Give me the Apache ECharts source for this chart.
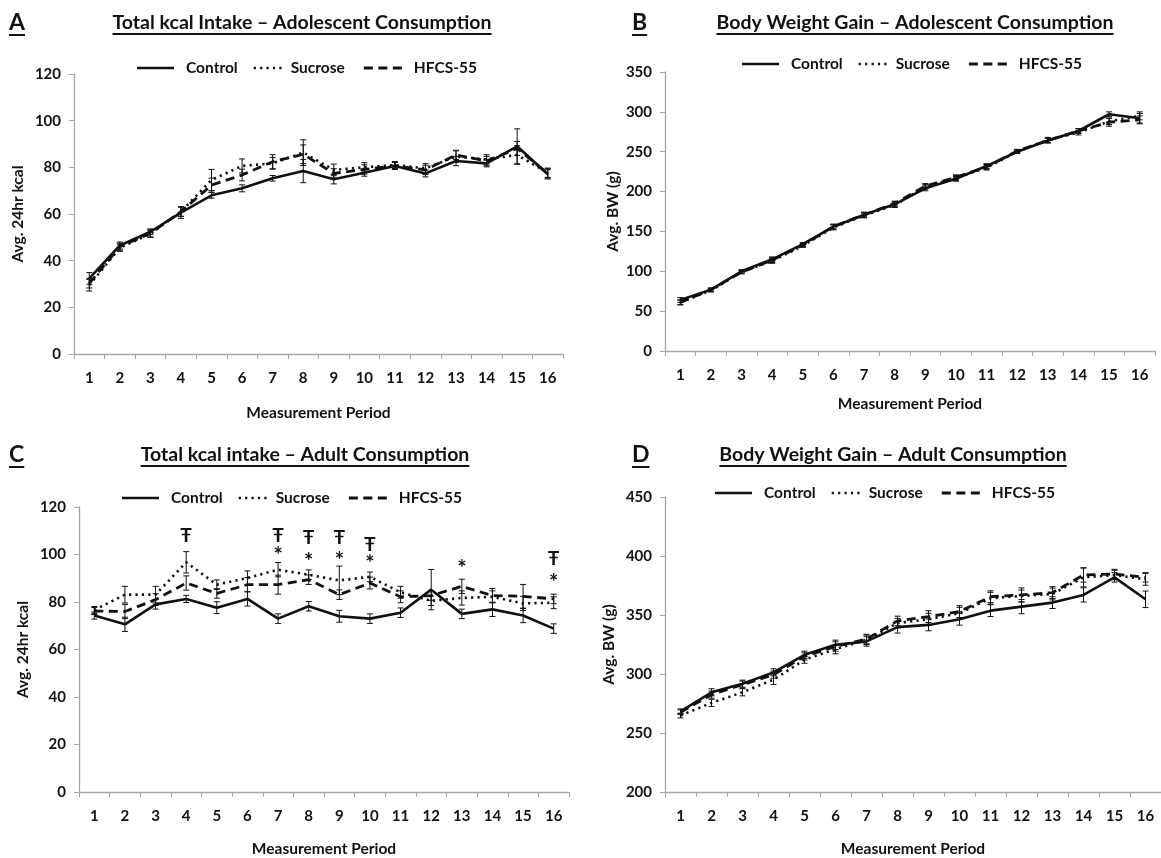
<!DOCTYPE html>
<html>
<head>
<meta charset="utf-8">
<script src="https://cdn.jsdelivr.net/npm/echarts@6/dist/echarts.min.js"></script>
<style>
  html, body { margin: 0; padding: 0; background: #fff; }
  #chart { width: 1161px; height: 858px; }
</style>
</head>
<body>
<div id="chart"></div>
<script>
// Measurement periods shared by all four panels
const periods = ['1','2','3','4','5','6','7','8','9','10','11','12','13','14','15','16'];
const groupNames = ['Control', 'Sucrose', 'HFCS-55'];

// A: total kcal intake, adolescent consumption (mean, SEM)
const kcalAdolControl = [32.4, 46.5, 52.4, 60.6, 68.0, 71.0, 75.3, 78.4, 74.9, 77.7, 80.6, 77.4, 82.7, 81.7, 89.0, 77.0];
const kcalAdolSucrose = [29.5, 45.5, 51.5, 61.0, 74.6, 80.6, 81.7, 86.3, 78.9, 80.0, 81.0, 79.6, 84.6, 83.4, 85.3, 77.7];
const kcalAdolHfcs    = [30.3, 46.0, 51.7, 61.0, 72.4, 76.7, 82.4, 85.6, 77.4, 79.1, 80.6, 78.9, 85.3, 82.7, 88.1, 77.4];
const kcalAdolControlErr = [2.5, 1.5, 1.2, 2.5, 1.2, 1.5, 1.2, 5.0, 2.0, 1.5, 1.5, 1.5, 2.0, 1.5, 7.5, 2.0];
const kcalAdolSucroseErr = [2.5, 1.5, 1.5, 2.0, 4.5, 3.0, 2.5, 5.5, 2.5, 2.0, 1.5, 2.0, 2.5, 2.0, 4.0, 2.0];
const kcalAdolHfcsErr    = [2.0, 1.5, 1.5, 2.0, 3.0, 2.5, 3.0, 4.0, 2.0, 2.0, 1.5, 2.0, 2.0, 2.0, 3.0, 2.0];

// B: body weight gain, adolescent consumption (g)
const bwAdolControl = [64, 77, 100, 115, 134, 156, 171, 184, 204, 216, 232, 250, 264, 276, 297, 292];
const bwAdolSucrose = [61, 76, 99, 113, 132, 155, 170, 183, 206, 217, 230, 250, 265, 274, 288, 295];
const bwAdolHfcs    = [61, 77, 99, 114, 133, 156, 171, 185, 207, 218, 231, 251, 264, 276, 287, 290];
const bwAdolControlErr = [3, 2, 2, 3, 2, 3, 3, 3, 3, 3, 3, 2, 3, 3, 3, 6];
const bwAdolSucroseErr = [3, 2, 2, 3, 2, 3, 3, 3, 3, 3, 3, 2, 3, 3, 4, 5];
const bwAdolHfcsErr    = [3, 2, 2, 3, 2, 3, 3, 3, 3, 3, 3, 2, 3, 3, 5, 5];

// C: total kcal intake, adult consumption
const kcalAdultControl = [74.3, 70.6, 79.0, 81.3, 77.6, 81.3, 73.0, 78.2, 74.0, 73.0, 75.5, 85.2, 75.0, 76.9, 74.3, 68.8];
const kcalAdultSucrose = [76.6, 83.1, 83.1, 96.7, 87.3, 90.1, 93.6, 91.5, 89.1, 90.6, 84.1, 80.5, 81.7, 82.2, 79.4, 79.7];
const kcalAdultHfcs    = [76.2, 76.0, 81.0, 88.0, 83.6, 87.3, 87.3, 89.4, 83.1, 88.0, 82.2, 82.7, 86.6, 82.7, 82.4, 81.3];
const kcalAdultControlErr = [1.5, 3.0, 2.0, 1.5, 2.5, 3.0, 2.0, 2.0, 2.5, 2.0, 2.0, 8.5, 2.0, 3.0, 3.0, 2.0];
const kcalAdultSucroseErr = [1.5, 3.5, 3.5, 4.5, 2.0, 3.0, 3.0, 2.0, 6.0, 2.0, 2.5, 2.0, 3.0, 2.5, 3.0, 2.5];
const kcalAdultHfcsErr    = [1.5, 3.0, 2.5, 3.0, 2.0, 3.0, 4.0, 2.0, 2.0, 2.5, 2.5, 2.0, 3.0, 3.0, 5.0, 2.0];
// significance marks above the adult kcal series: [period, height]
const daggerMarks = [[4, 108], [7, 108], [8, 107], [9, 107], [10, 104], [16, 98]];
const starMarks   = [[7, 100.5], [8, 98], [9, 98.5], [10, 97], [13, 95], [16, 89]];

// D: body weight gain, adult consumption (g)
const bwAdultControl = [268.4, 284.5, 291.8, 301.4, 316.3, 324.7, 327.6, 339.7, 341.6, 346.4, 353.7, 357.1, 360.5, 367.0, 381.9, 363.3];
const bwAdultSucrose = [264.8, 275.5, 284.5, 295.2, 312.1, 321.1, 329.0, 343.1, 346.4, 351.5, 364.2, 366.1, 367.8, 381.9, 383.9, 380.2];
const bwAdultHfcs    = [267.6, 282.5, 291.0, 299.4, 314.9, 323.3, 329.6, 345.0, 348.6, 352.9, 365.5, 367.0, 369.0, 383.9, 384.7, 381.9];
const bwAdultControlErr = [2, 3, 3, 3, 3, 4, 4, 5, 5, 5, 5, 6, 5, 6, 4, 7];
const bwAdultSucroseErr = [2, 3, 3, 4, 3, 4, 4, 4, 5, 5, 5, 5, 5, 8, 4, 5];
const bwAdultHfcsErr    = [2, 3, 3, 3, 3, 4, 4, 4, 5, 5, 5, 6, 5, 6, 4, 4];

const FONT = 'Lato, "Open Sans", sans-serif';
const AXIS_GREY = '#a6a6a6';
const INK = '#111';

const chart = echarts.init(document.getElementById('chart'), null, { renderer: 'canvas' });

// panel layout and axis ranges
const panels = [
  { grid: { left: 74, top: 74, width: 489, height: 280 }, min: 0, max: 120, interval: 20, yName: 'Avg. 24hr kcal', yGap: 48, xGap: 51,
    values: [kcalAdolControl, kcalAdolSucrose, kcalAdolHfcs], errs: [kcalAdolControlErr, kcalAdolSucroseErr, kcalAdolHfcsErr] },
  { grid: { left: 665, top: 72, width: 490, height: 279 }, min: 0, max: 350, interval: 50, yName: 'Avg. BW (g)', yGap: 44, xGap: 45,
    values: [bwAdolControl, bwAdolSucrose, bwAdolHfcs], errs: [bwAdolControlErr, bwAdolSucroseErr, bwAdolHfcsErr] },
  { grid: { left: 79, top: 507, width: 490, height: 286 }, min: 0, max: 120, interval: 20, yName: 'Avg. 24hr kcal', yGap: 48, xGap: 49,
    values: [kcalAdultControl, kcalAdultSucrose, kcalAdultHfcs], errs: [kcalAdultControlErr, kcalAdultSucroseErr, kcalAdultHfcsErr] },
  { grid: { left: 665, top: 497, width: 496, height: 296 }, min: 200, max: 450, interval: 50, yName: 'Avg. BW (g)', yGap: 48, xGap: 49,
    values: [bwAdultControl, bwAdultSucrose, bwAdultHfcs], errs: [bwAdultControlErr, bwAdultSucroseErr, bwAdultHfcsErr] }
];

// solid, dotted and dashed strokes for the three groups
const dashes = ['solid', [2.2, 4.2], [9, 5.5]];
const widths = [2.6, 2.6, 2.8];

function errorBarItem(params, api) {
  const x = api.value(0);
  const lo = api.coord([x, api.value(1)]);
  const hi = api.coord([x, api.value(2)]);
  const cap = 3;
  const st = { stroke: INK, lineWidth: 1 };
  return {
    type: 'group',
    children: [
      { type: 'line', shape: { x1: lo[0], y1: lo[1], x2: hi[0], y2: hi[1] }, style: st },
      { type: 'line', shape: { x1: lo[0] - cap, y1: lo[1], x2: lo[0] + cap, y2: lo[1] }, style: st },
      { type: 'line', shape: { x1: hi[0] - cap, y1: hi[1], x2: hi[0] + cap, y2: hi[1] }, style: st }
    ]
  };
}

function markItem(text, size) {
  return function (params, api) {
    const p = api.coord([api.value(0), api.value(1)]);
    return {
      type: 'text', x: p[0], y: p[1],
      style: { text: text, fill: INK, font: 'bold ' + size + 'px ' + FONT, align: 'center', verticalAlign: 'middle' }
    };
  };
}

const grids = [], xAxes = [], yAxes = [], series = [];
panels.forEach((p, i) => {
  grids.push(Object.assign({}, p.grid, { containLabel: false }));
  xAxes.push({
    type: 'category', gridIndex: i, data: periods, boundaryGap: true,
    name: 'Measurement Period', nameLocation: 'middle', nameGap: p.xGap,
    nameTextStyle: { fontFamily: FONT, fontWeight: 'bold', fontSize: 15.5, color: INK },
    axisLine: { lineStyle: { color: AXIS_GREY, width: 1.3 } },
    axisTick: { show: true, length: 5, lineStyle: { color: AXIS_GREY } },
    axisLabel: { fontFamily: FONT, fontWeight: 'bold', fontSize: 15, color: INK, margin: 17, interval: 0 },
    splitLine: { show: false }
  });
  yAxes.push({
    type: 'value', gridIndex: i, min: p.min, max: p.max, interval: p.interval,
    name: p.yName, nameLocation: 'middle', nameGap: p.yGap, nameRotate: 90,
    nameTextStyle: { fontFamily: FONT, fontWeight: 'bold', fontSize: 15.5, color: INK },
    axisLine: { show: true, lineStyle: { color: AXIS_GREY, width: 1.3 } },
    axisTick: { show: true, length: 5, lineStyle: { color: AXIS_GREY } },
    axisLabel: { fontFamily: FONT, fontWeight: 'bold', fontSize: 15, color: INK, margin: 13 },
    splitLine: { show: false }
  });
  groupNames.forEach((name, g) => {
    series.push({
      type: 'line', name: name, xAxisIndex: i, yAxisIndex: i,
      data: p.values[g], symbol: 'none', smooth: false,
      lineStyle: { color: INK, type: dashes[g], width: widths[g] },
      itemStyle: { color: INK },
      z: 3
    });
    series.push({
      type: 'custom', name: name + ' SEM', xAxisIndex: i, yAxisIndex: i,
      renderItem: errorBarItem, encode: { x: 0, y: [1, 2] },
      data: p.values[g].map((v, k) => [k, v - p.errs[g][k], v + p.errs[g][k]]),
      z: 4, silent: true
    });
  });
});

// significance symbols on the adult intake panel
series.push({
  type: 'custom', xAxisIndex: 2, yAxisIndex: 2, renderItem: markItem('Ŧ', 19),
  encode: { x: 0, y: 1 }, data: daggerMarks.map(m => [m[0] - 1, m[1]]), z: 5, silent: true
});
series.push({
  type: 'custom', xAxisIndex: 2, yAxisIndex: 2, renderItem: markItem('*', 22),
  encode: { x: 0, y: 1 }, data: starMarks.map(m => [m[0] - 1, m[1] - 1]), z: 5, silent: true
});

const measureCtx = document.createElement('canvas').getContext('2d');
function textWidth(text, font) { measureCtx.font = font; return measureCtx.measureText(text).width; }

const graphics = [];

// key for each panel: stroke sample followed by group name
const legendFont = 'bold 15.5px ' + FONT;
const legendStarts = [[137, 68], [742, 64], [122, 498], [715, 493]];
const sampleLen = [37, 32, 38];
const gapBefore = [12, 5, 12];
const gapAfter = [16, 19, 0];
legendStarts.forEach(([x0, y]) => {
  let x = x0;
  groupNames.forEach((name, g) => {
    graphics.push({
      type: 'line', shape: { x1: x, y1: y, x2: x + sampleLen[g], y2: y },
      style: { stroke: INK, lineWidth: widths[g], lineDash: g === 0 ? null : dashes[g] }
    });
    x += sampleLen[g] + gapBefore[g];
    graphics.push({ type: 'text', x: x, y: y, style: { text: name, font: legendFont, fill: INK, align: 'left', verticalAlign: 'middle' } });
    x += textWidth(name, legendFont) + gapAfter[g];
  });
});

// panel letters and underlined titles
const titleFont = 'bold 19.5px ' + FONT;
const letterFont = 'bold 23px ' + FONT;
const headings = [
  { letter: 'A', lx: 9, title: 'Total kcal Intake – Adolescent Consumption', cx: 302, y: 23 },
  { letter: 'B', lx: 632, title: 'Body Weight Gain – Adolescent Consumption', cx: 915, y: 23 },
  { letter: 'C', lx: 9, title: 'Total kcal intake – Adult Consumption', cx: 305, y: 455 },
  { letter: 'D', lx: 632, title: 'Body Weight Gain – Adult Consumption', cx: 893, y: 455 }
];
headings.forEach(h => {
  const lw = textWidth(h.letter, letterFont);
  graphics.push({ type: 'text', x: h.lx, y: h.y, style: { text: h.letter, font: letterFont, fill: INK, align: 'left', verticalAlign: 'middle' } });
  graphics.push({ type: 'line', shape: { x1: h.lx, y1: h.y + 12, x2: h.lx + lw, y2: h.y + 12 }, style: { stroke: INK, lineWidth: 2 } });
  const tw = textWidth(h.title, titleFont);
  graphics.push({ type: 'text', x: h.cx, y: h.y, style: { text: h.title, font: titleFont, fill: INK, align: 'center', verticalAlign: 'middle' } });
  graphics.push({ type: 'line', shape: { x1: h.cx - tw / 2, y1: h.y + 11, x2: h.cx + tw / 2, y2: h.y + 11 }, style: { stroke: INK, lineWidth: 1.8 } });
});

chart.setOption({
  backgroundColor: '#fff',
  animation: false,
  grid: grids,
  xAxis: xAxes,
  yAxis: yAxes,
  series: series,
  graphic: graphics
});
</script>
</body>
</html>
